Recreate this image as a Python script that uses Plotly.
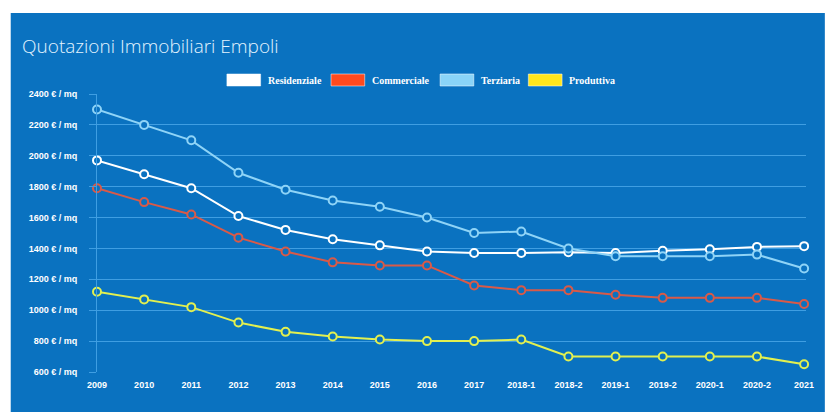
import plotly.graph_objects as go

categories = ["2009", "2010", "2011", "2012", "2013", "2014", "2015", "2016", "2017",
              "2018-1", "2018-2", "2019-1", "2019-2", "2020-1", "2020-2", "2021"]
residenziale = [1970, 1880, 1790, 1610, 1520, 1460, 1420, 1380, 1370, 1370, 1375, 1370, 1385, 1395, 1410, 1415]
commerciale = [1790, 1700, 1620, 1470, 1380, 1310, 1290, 1290, 1160, 1130, 1130, 1100, 1080, 1080, 1080, 1040]
terziaria = [2300, 2200, 2100, 1890, 1780, 1710, 1670, 1600, 1500, 1510, 1400, 1350, 1350, 1350, 1360, 1270]
produttiva = [1120, 1070, 1020, 920, 860, 830, 810, 800, 800, 810, 700, 700, 700, 700, 700, 650]
series_names = ["Residenziale", "Commerciale", "Terziaria", "Produttiva"]
y_ticks = [600, 800, 1000, 1200, 1400, 1600, 1800, 2000, 2200, 2400]
y_tick_labels = [f"{v} € / mq" for v in y_ticks]

BG = "#0a72c0"
GRID = "#3f9ee2"
line_colors = ["#ffffff", "#d95a48", "#8fd4f7", "#e2f050"]
box_colors = ["#ffffff", "#ff4a1e", "#8ad4f8", "#ffe61c"]

W, H = 826, 412
L, R, T, B = 97, 14, 94, 40
PW, PH = W - L - R, H - T - B

fig = go.Figure()
for name, vals, col in zip(series_names, [residenziale, commerciale, terziaria, produttiva], line_colors):
    fig.add_trace(go.Scatter(
        x=categories, y=vals, name=name, mode="lines+markers",
        line=dict(color=col, width=2),
        marker=dict(size=8, color=BG, line=dict(color=col, width=2)),
        cliponaxis=False, showlegend=False,
    ))

def px_x(p):
    return (p - L) / PW

def px_y(p):
    return (H - B - p) / PH

shapes = [dict(type="rect", xref="paper", yref="paper", layer="below",
               x0=px_x(10), x1=px_x(W + 5), y0=px_y(H + 5), y1=px_y(13),
               fillcolor=BG, line=dict(width=0))]
annotations = []
# manual legend (boxes + labels)
legend_starts = [228, 333, 443, 532]
for name, col, x0 in zip(series_names, box_colors, legend_starts):
    shapes.append(dict(type="rect", xref="paper", yref="paper",
                       x0=px_x(x0), x1=px_x(x0 + 34), y0=px_y(86), y1=px_y(74),
                       fillcolor=col, line=dict(color="rgba(255,255,255,0.5)", width=1)))
    annotations.append(dict(text=name, xref="paper", yref="paper", showarrow=False,
                            x=px_x(x0 + 39), y=px_y(80), xanchor="left", yanchor="middle",
                            font=dict(family="Liberation Serif", size=10, color="white", weight="bold")))

fig.update_layout(
    width=W, height=H,
    margin=dict(l=L, r=R, t=T, b=B),
    paper_bgcolor="white", plot_bgcolor=BG,
    title=dict(text="Quotazioni Immobiliari Empoli", x=22 / W, xanchor="left", xref="container",
               y=1 - 46 / H, yanchor="middle", yref="container",
               font=dict(family="Open Sans", size=19, color="#e4f4ff", weight=300)),
    shapes=shapes, annotations=annotations,
    xaxis=dict(type="category", range=[0, 15.04], showgrid=False, zeroline=False, showline=False,
               ticks="", ticklabelstandoff=6,
               tickfont=dict(family="Liberation Sans", size=9, color="white", weight="bold")),
    yaxis=dict(range=[600, 2400], tickmode="array", tickvals=y_ticks, ticktext=y_tick_labels,
               showgrid=True, gridcolor=GRID, gridwidth=1, zeroline=False,
               showline=True, linecolor=GRID, linewidth=1,
               ticks="outside", ticklen=7, tickcolor=GRID, ticklabelstandoff=10,
               tickfont=dict(family="Liberation Sans", size=9, color="white", weight="bold")),
    showlegend=False,
)

fig.write_html("out.html", config={"displayModeBar": False},
               post_script="document.body.style.margin='0';document.body.style.padding='0';")
